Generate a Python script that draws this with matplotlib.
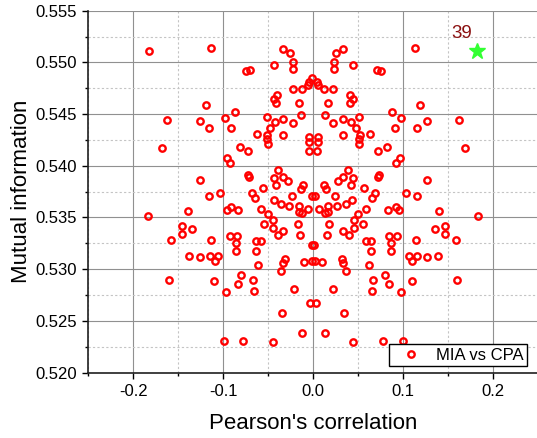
import matplotlib
matplotlib.use('Agg')
import matplotlib.pyplot as plt
from matplotlib.ticker import AutoMinorLocator, FormatStrFormatter

plt.rcParams['font.family'] = 'Liberation Sans'
plt.rcParams['axes.unicode_minus'] = False

# points come in mirrored pairs: same MI, correlation of both signs
r_neg = [-0.1135, -0.0333, -0.0256, -0.0437, -0.0230, -0.0225, -0.0750, -0.0703,
         -0.0042, -0.0064, -0.0220, -0.0120, -0.0407, -0.0437, -0.0410, -0.0159,
         -0.1189, -0.0870, -0.1622, -0.1259, -0.1156, -0.0978, -0.0910, -0.0511,
         -0.0420, -0.0333, -0.0476, -0.0222, -0.0134, -0.0629, -0.0518, -0.0511,
         -0.0507, -0.0333, -0.0051, -0.0051, -0.0046, -0.1684, -0.0814, -0.0722,
         -0.0964, -0.0920, -0.1259, -0.0729, -0.0718, -0.0389, -0.0437, -0.0414,
         -0.0335, -0.0278, -0.0562, -0.0684, -0.0648, -0.0118, -0.0137, -0.0240,
         -0.0433, -0.0359, -0.0267, -0.0581, -0.0917, -0.0833, -0.0955, -0.0159,
         -0.0159, -0.0129, -0.0060, -0.0015, -0.1156, -0.1033, -0.1833, -0.1392,
         -0.0500, -0.0451, -0.0551, -0.0453, -0.0173, -0.0396, -0.0333, -0.0148,
         -0.0926, -0.0844, -0.0859, -0.0859, -0.0640, -0.0581, -0.0640, -0.0012,
         -0.1462, -0.1348, -0.1462, -0.1584, -0.1140, -0.1381, -0.1259, -0.1148,
         -0.1092, -0.1059, -0.0314, -0.0333, -0.0359, -0.0618, -0.0800, -0.0840,
         -0.0667, -0.0656, -0.0970, -0.0214, -0.0100, -0.0018, -0.1600, -0.1100,
         -0.0033, -0.0344, -0.0129, -0.0992, -0.0778, -0.0444]
r_pos = [0.1135, 0.0333, 0.0256, 0.0437, 0.0230, 0.0225, 0.0750, 0.0703,
         0.0036, 0.0058, 0.0220, 0.0120, 0.0407, 0.0437, 0.0410, 0.0159,
         0.1189, 0.0870, 0.1622, 0.1259, 0.1156, 0.0978, 0.0910, 0.0511,
         0.0420, 0.0333, 0.0476, 0.0222, 0.0134, 0.0629, 0.0518, 0.0511,
         0.0507, 0.0333, 0.0051, 0.0051, 0.0046, 0.1684, 0.0814, 0.0722,
         0.0964, 0.0920, 0.1259, 0.0729, 0.0718, 0.0389, 0.0437, 0.0414,
         0.0335, 0.0278, 0.0562, 0.0684, 0.0648, 0.0118, 0.0137, 0.0240,
         0.0433, 0.0359, 0.0267, 0.0581, 0.0917, 0.0833, 0.0955, 0.0159,
         0.0159, 0.0129, 0.0060, 0.0015, 0.1156, 0.1033, 0.1833, 0.1392,
         0.0500, 0.0451, 0.0551, 0.0453, 0.0173, 0.0396, 0.0333, 0.0148,
         0.0926, 0.0844, 0.0859, 0.0859, 0.0640, 0.0581, 0.0640, 0.0012,
         0.1462, 0.1348, 0.1462, 0.1584, 0.1140, 0.1381, 0.1259, 0.1148,
         0.1092, 0.1059, 0.0314, 0.0333, 0.0359, 0.0618, 0.0800, 0.0840,
         0.0667, 0.0656, 0.0970, 0.0214, 0.0100, 0.0018, 0.1600, 0.1100,
         0.0033, 0.0344, 0.0129, 0.0992, 0.0778, 0.0444]
mi = [0.5514, 0.5513, 0.5509, 0.5497, 0.5500, 0.5494, 0.5492, 0.5493,
      0.5481, 0.5478, 0.5474, 0.5474, 0.5468, 0.5465, 0.5461, 0.5461,
      0.5459, 0.5452, 0.5444, 0.5443, 0.5437, 0.5446, 0.5437, 0.5447,
      0.5442, 0.5445, 0.5437, 0.5441, 0.5449, 0.5431, 0.5430, 0.5426,
      0.5421, 0.5430, 0.5428, 0.5423, 0.5414, 0.5417, 0.5418, 0.5414,
      0.5408, 0.5403, 0.5386, 0.5391, 0.5389, 0.5396, 0.5388, 0.5381,
      0.5389, 0.5385, 0.5379, 0.5374, 0.5369, 0.5381, 0.5378, 0.5371,
      0.5367, 0.5363, 0.5361, 0.5358, 0.5360, 0.5357, 0.5357, 0.5361,
      0.5355, 0.5354, 0.5358, 0.5371, 0.5371, 0.5374, 0.5351, 0.5356,
      0.5353, 0.5348, 0.5344, 0.5340, 0.5344, 0.5333, 0.5337, 0.5333,
      0.5332, 0.5332, 0.5325, 0.5318, 0.5327, 0.5327, 0.5318, 0.5323,
      0.5342, 0.5339, 0.5334, 0.5328, 0.5328, 0.5313, 0.5312, 0.5313,
      0.5308, 0.5313, 0.5310, 0.5306, 0.5298, 0.5304, 0.5294, 0.5286,
      0.5290, 0.5279, 0.5278, 0.5281, 0.5307, 0.5308, 0.5290, 0.5289,
      0.5267, 0.5258, 0.5238, 0.5231, 0.5231, 0.5230]

# unpaired points
r_single = [-0.1830, -0.0010]
mi_single = [0.5511, 0.5485]

# highlighted key guess
best_r = 0.1820
best_mi = 0.5511
best_label = '39'

fig = plt.figure(figsize=(5.37, 4.38), dpi=100)
ax = fig.add_axes([0.1644, 0.1493, 0.8356, 0.8263])

xs = r_neg + r_pos + r_single
ys = mi + mi + mi_single
ax.plot(xs, ys, 'o', linestyle='none', mfc='none', mec='red', ms=4.6, mew=1.7,
        label='MIA vs CPA', zorder=3)
ax.plot([best_r], [best_mi], '*', color='#33ff33', ms=12, mec='#33ff33', zorder=4)
ax.text(best_r - 0.017, best_mi + 0.0017, best_label, color='#8b1010', fontsize=13.5,
        ha='center', va='center')

ax.set_xlim(-0.25, 0.2486)
ax.set_ylim(0.520, 0.555)
ax.set_xticks([-0.2, -0.1, 0.0, 0.1, 0.2])
ax.xaxis.set_minor_locator(AutoMinorLocator(2))
ax.yaxis.set_minor_locator(AutoMinorLocator(2))
ax.yaxis.set_major_formatter(FormatStrFormatter('%.3f'))
ax.xaxis.set_major_formatter(FormatStrFormatter('%.1f'))

ax.set_axisbelow(True)
ax.grid(which='major', color='#909090', linewidth=0.8, linestyle='-')
ax.grid(which='minor', color='#c4c4c4', linewidth=0.8, linestyle=(0, (2, 2)))

for s in ['top', 'right']:
    ax.spines[s].set_visible(False)
for s in ['left', 'bottom']:
    ax.spines[s].set_linewidth(1.2)
    ax.spines[s].set_color('#202020')

ax.tick_params(which='major', direction='out', length=4, width=1, labelsize=12, pad=4)
ax.tick_params(which='minor', direction='out', length=2.5, width=1)

ax.set_xlabel("Pearson's correlation", fontsize=16)
ax.set_ylabel('Mutual information', fontsize=16)
ax.xaxis.set_label_coords(0.5008, -0.112)
ax.yaxis.set_label_coords(-0.126, 0.5)

leg = ax.legend(loc='lower right', bbox_to_anchor=(0.977, 0.018), borderaxespad=0,
                fontsize=12, frameon=True, fancybox=False, framealpha=1,
                edgecolor='black', borderpad=0.2, handlelength=2.2,
                handletextpad=0.4, numpoints=1)
leg.get_frame().set_linewidth(1.0)

fig.savefig('out.png', dpi=100)
